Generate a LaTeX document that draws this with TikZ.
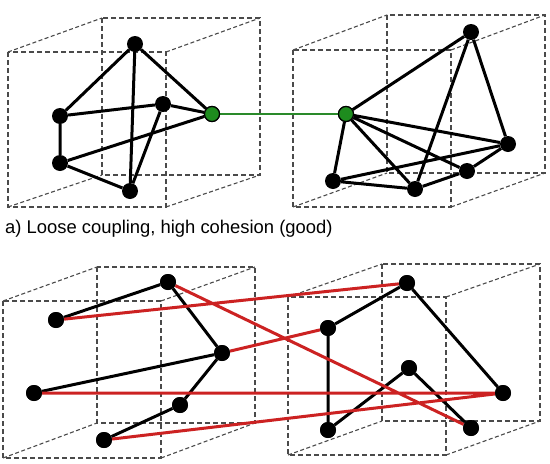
\documentclass[tikz,border=0pt]{standalone}
\usepackage{fontspec}
\setmainfont{Liberation Sans}
\definecolor{boxgray}{HTML}{4A4A4A}
\definecolor{linkred}{HTML}{CC2222}
\definecolor{nodegreen}{HTML}{1E8C1E}
\definecolor{linkgreen}{HTML}{2A8A2A}
\begin{document}
\begin{tikzpicture}[x=1pt,y=-1pt,
  dot/.style={circle,fill=black,inner sep=0pt,minimum size=16pt},
  gdot/.style={circle,fill=nodegreen,draw=black,line width=1.2pt,inner sep=0pt,minimum size=15pt},
  edge/.style={line width=3pt,black},
  redge/.style={line width=3pt,linkred},
  gedge/.style={line width=2.8pt,linkgreen},
  boxline/.style={boxgray,line width=1.3pt,dash pattern=on 5pt off 3pt},
  diagline/.style={boxgray,line width=1.1pt,dash pattern=on 4pt off 2.5pt}]
\useasboundingbox (0,0) rectangle (550,464);
\fill[white] (0,0) rectangle (550,464);
% top-left cube
\draw[boxline] (8,52) rectangle (166,207);
\draw[boxline] (102,18) rectangle (260,175);
\draw[diagline] (8,52) -- (102,18) (166,52) -- (260,18) (8,207) -- (102,175) (166,207) -- (260,175);
% top-right cube
\draw[boxline] (293,50) rectangle (451,207);
\draw[boxline] (387,15) rectangle (545,173);
\draw[diagline] (293,50) -- (387,15) (451,50) -- (545,15) (293,207) -- (387,173) (451,207) -- (545,173);
% bottom-left cube
\draw[boxline] (3,301) rectangle (161,458);
\draw[boxline] (97,267) rectangle (255,423);
\draw[diagline] (3,301) -- (97,267) (161,301) -- (255,267) (3,458) -- (97,423) (161,458) -- (255,423);
% bottom-right cube
\draw[boxline] (288,297) rectangle (446,455);
\draw[boxline] (382,264) rectangle (540,421);
\draw[diagline] (288,297) -- (382,264) (446,297) -- (540,264) (288,455) -- (382,421) (446,455) -- (540,421);

% top-left nodes
\node[dot] (A) at (135,44) {};
\node[dot] (B) at (163,104) {};
\node[dot] (C) at (60,116) {};
\node[dot] (D) at (60,163) {};
\node[dot] (E) at (130,191) {};
\node[gdot] (G) at (212,114) {};
% top-right nodes
\node[gdot] (H) at (346,114) {};
\node[dot] (P) at (471,32) {};
\node[dot] (Q) at (508,144) {};
\node[dot] (R) at (467,171) {};
\node[dot] (S) at (415,189) {};
\node[dot] (T) at (333,181) {};

\draw[edge] (A) -- (C) (A) -- (E) (A) -- (G) (C) -- (B) (B) -- (G) (B) -- (E) (C) -- (D) (D) -- (G) (D) -- (E);
\draw[edge] (H) -- (P) (H) -- (T) (H) -- (S) (H) -- (Q) (H) -- (R) (P) -- (S) (P) -- (Q) (T) -- (Q) (T) -- (S) (S) -- (R) (R) -- (Q);
\draw[gedge] (G) -- (H);
\node[gdot] at (G) {};
\node[gdot] at (H) {};

\node[anchor=base west,inner sep=0pt,font=\fontsize{18.4}{21}\selectfont] (cap) at (5,233) {a) Loose coupling, high cohesion (good)};

% bottom nodes
\node[dot] (a1) at (56,320) {};
\node[dot] (a2) at (168,282) {};
\node[dot] (a3) at (222,353) {};
\node[dot] (a4) at (34,393) {};
\node[dot] (a5) at (180,405) {};
\node[dot] (a6) at (104,440) {};
\node[dot] (b1) at (407,283) {};
\node[dot] (b2) at (328,328) {};
\node[dot] (b3) at (409,368) {};
\node[dot] (b4) at (503,393) {};
\node[dot] (b5) at (328,430) {};
\node[dot] (b6) at (471,428) {};

\draw[edge] (a1) -- (a2) (a2) -- (a3) (a3) -- (a4) (a3) -- (a5) (a5) -- (a6);
\draw[edge] (b1) -- (b2) (b2) -- (b5) (b1) -- (b4) (b5) -- (b3) (b3) -- (b6);
\draw[redge] (a1) -- (b1) (a2) -- (b6) (a3) -- (b2) (a4) -- (b4) (a6) -- (b4);
\foreach \n in {a1,a2,a3,a4,a5,a6,b1,b2,b3,b4,b5,b6} \node[dot] at (\n) {};
\end{tikzpicture}
\end{document}
